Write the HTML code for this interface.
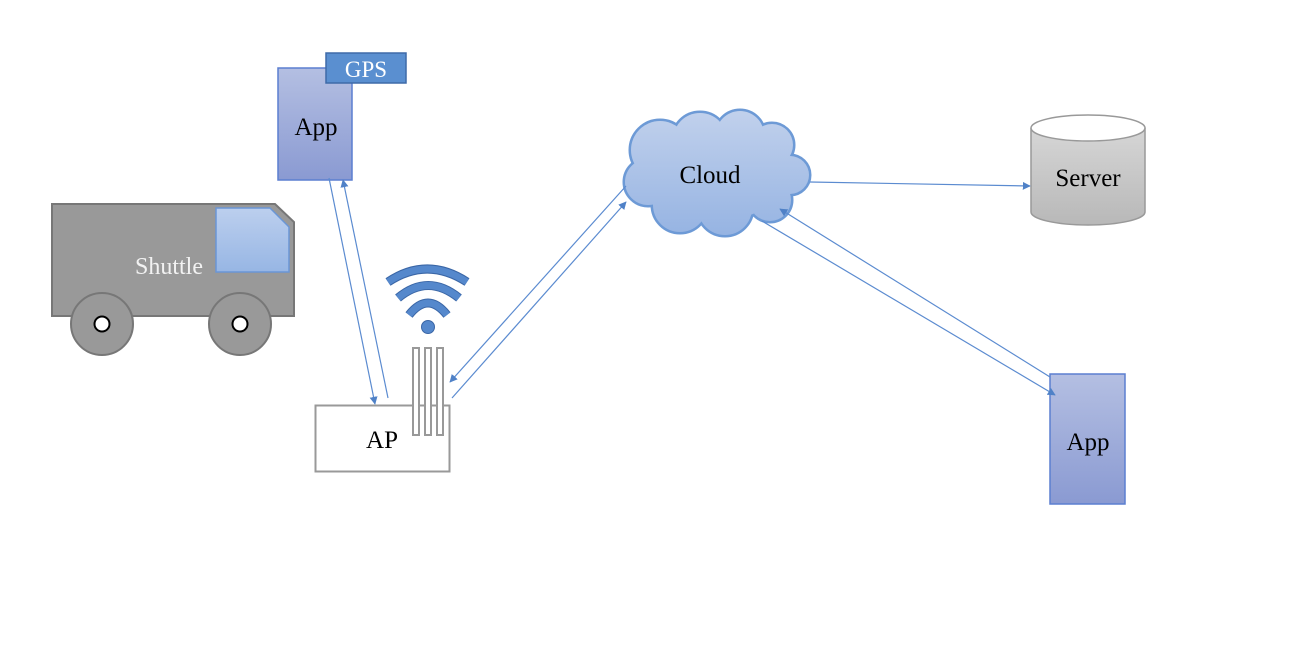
<!DOCTYPE html>
<html><head><meta charset="utf-8"><style>html,body{margin:0;padding:0;background:#fff}svg{display:block}text{font-family:"Liberation Serif",serif}</style></head>
<body>
<svg width="1315" height="658" viewBox="0 0 1315 658" xmlns="http://www.w3.org/2000/svg">
<defs>
<linearGradient id="app" x1="0" y1="0" x2="0" y2="1"><stop offset="0" stop-color="#b4bfe2"/><stop offset="1" stop-color="#8a9ad2"/></linearGradient>
<linearGradient id="win" x1="0" y1="0" x2="0" y2="1"><stop offset="0" stop-color="#bccfee"/><stop offset="1" stop-color="#97b6e4"/></linearGradient>
<linearGradient id="cl" gradientUnits="userSpaceOnUse" x1="0" y1="113" x2="0" y2="238"><stop offset="0" stop-color="#c0d0ec"/><stop offset="1" stop-color="#95b3e2"/></linearGradient>
<linearGradient id="srv" x1="0" y1="0" x2="0" y2="1"><stop offset="0" stop-color="#d6d6d6"/><stop offset="1" stop-color="#b8b8b8"/></linearGradient>
<marker id="ar" viewBox="0 0 10 10" refX="9" refY="5" markerWidth="8" markerHeight="8" orient="auto" markerUnits="userSpaceOnUse"><path d="M0,0L10,5L0,10z" fill="#4f81c7"/></marker>
</defs>

<!-- Shuttle -->
<polygon points="52,204 275,204 294,222 294,316 52,316" fill="#999" stroke="#777" stroke-width="2"/>
<polygon points="216,208 270,208 289,227 289,272 216,272" fill="url(#win)" stroke="#6a96d6" stroke-width="1.5"/>
<text x="169" y="274" font-size="24" fill="#f2f2f2" text-anchor="middle">Shuttle</text>
<circle cx="102" cy="324" r="31" fill="#999" stroke="#777" stroke-width="2"/>
<circle cx="240" cy="324" r="31" fill="#999" stroke="#777" stroke-width="2"/>
<circle cx="102" cy="324" r="7.5" fill="#fff" stroke="#000" stroke-width="2"/>
<circle cx="240" cy="324" r="7.5" fill="#fff" stroke="#000" stroke-width="2"/>

<!-- App 1 -->
<rect x="278" y="68" width="74" height="112" fill="url(#app)" stroke="#5b7fd0" stroke-width="1.5"/>
<rect x="326" y="53" width="80" height="30" fill="#5a8fd0" stroke="#3e6aa8" stroke-width="1.5"/>
<text x="366" y="77" font-size="23" fill="#fff" text-anchor="middle">GPS</text>
<text x="316" y="135" font-size="25" fill="#000" text-anchor="middle">App</text>

<!-- AP -->
<rect x="315.5" y="405.5" width="134" height="66" fill="#fff" stroke="#999" stroke-width="2"/>
<text x="382" y="448" font-size="25" fill="#000" text-anchor="middle">AP</text>
<rect x="413" y="348" width="6" height="87" fill="#fff" stroke="#999" stroke-width="2"/>
<rect x="425" y="348" width="6" height="87" fill="#fff" stroke="#999" stroke-width="2"/>
<rect x="437" y="348" width="6" height="87" fill="#fff" stroke="#999" stroke-width="2"/>

<!-- WiFi -->
<g fill="none" stroke-linecap="butt">
<path d="M388,282 Q427,256 467,282" stroke="#3a66a6" stroke-width="9"/>
<path d="M388,282 Q427,256 467,282" stroke="#5588cc" stroke-width="7"/>
<path d="M398,298 Q428,273 459,298" stroke="#3a66a6" stroke-width="9"/>
<path d="M398,298 Q428,273 459,298" stroke="#5588cc" stroke-width="7"/>
<path d="M409,315 Q428,291 447,315" stroke="#3a66a6" stroke-width="9"/>
<path d="M409,315 Q428,291 447,315" stroke="#5588cc" stroke-width="7"/>
</g>
<circle cx="428" cy="327" r="6.5" fill="#5588cc" stroke="#3a66a6" stroke-width="1"/>

<!-- Cloud -->
<g stroke="#6d9ad6" stroke-width="3" fill="url(#cl)">
<circle cx="660" cy="150" r="30"/><circle cx="700" cy="140" r="28"/><circle cx="740" cy="135" r="25"/>
<circle cx="772" cy="145" r="22"/><circle cx="790" cy="175" r="20"/><circle cx="770" cy="200" r="22"/>
<circle cx="725" cy="208" r="28"/><circle cx="680" cy="205" r="28"/><circle cx="648" cy="182" r="24"/>
<ellipse cx="715" cy="176" rx="72" ry="46"/>
</g>
<g fill="url(#cl)">
<circle cx="660" cy="150" r="29"/><circle cx="700" cy="140" r="27"/><circle cx="740" cy="135" r="24"/>
<circle cx="772" cy="145" r="21"/><circle cx="790" cy="175" r="19"/><circle cx="770" cy="200" r="21"/>
<circle cx="725" cy="208" r="27"/><circle cx="680" cy="205" r="27"/><circle cx="648" cy="182" r="23"/>
<ellipse cx="715" cy="176" rx="71" ry="45"/>
</g>
<text x="710" y="183" font-size="25" fill="#000" text-anchor="middle">Cloud</text>

<!-- Server -->
<path d="M1031,128 L1031,212 A57,13 0 0 0 1145,212 L1145,128" fill="url(#srv)" stroke="#999" stroke-width="1.5"/>
<ellipse cx="1088" cy="128" rx="57" ry="13" fill="#fff" stroke="#999" stroke-width="1.5"/>
<text x="1088" y="186" font-size="25" fill="#000" text-anchor="middle">Server</text>

<!-- App 2 -->
<rect x="1050" y="374" width="75" height="130" fill="url(#app)" stroke="#5b7fd0" stroke-width="1.5"/>
<text x="1088" y="450" font-size="25" fill="#000" text-anchor="middle">App</text>

<!-- Connectors -->
<g stroke="#5b8bd0" stroke-width="1.2" fill="none">
<line x1="329" y1="178" x2="375" y2="404" marker-end="url(#ar)"/>
<line x1="388" y1="398" x2="343" y2="180" marker-end="url(#ar)"/>
<line x1="626" y1="186" x2="450" y2="382" marker-end="url(#ar)"/>
<line x1="452" y1="398" x2="626" y2="202" marker-end="url(#ar)"/>
<line x1="810" y1="182" x2="1030" y2="186" marker-end="url(#ar)"/>
<line x1="762" y1="221" x2="1055" y2="395" marker-end="url(#ar)"/>
<line x1="1050" y1="377" x2="780" y2="209" marker-end="url(#ar)"/>
</g>
</svg>
</body></html>
